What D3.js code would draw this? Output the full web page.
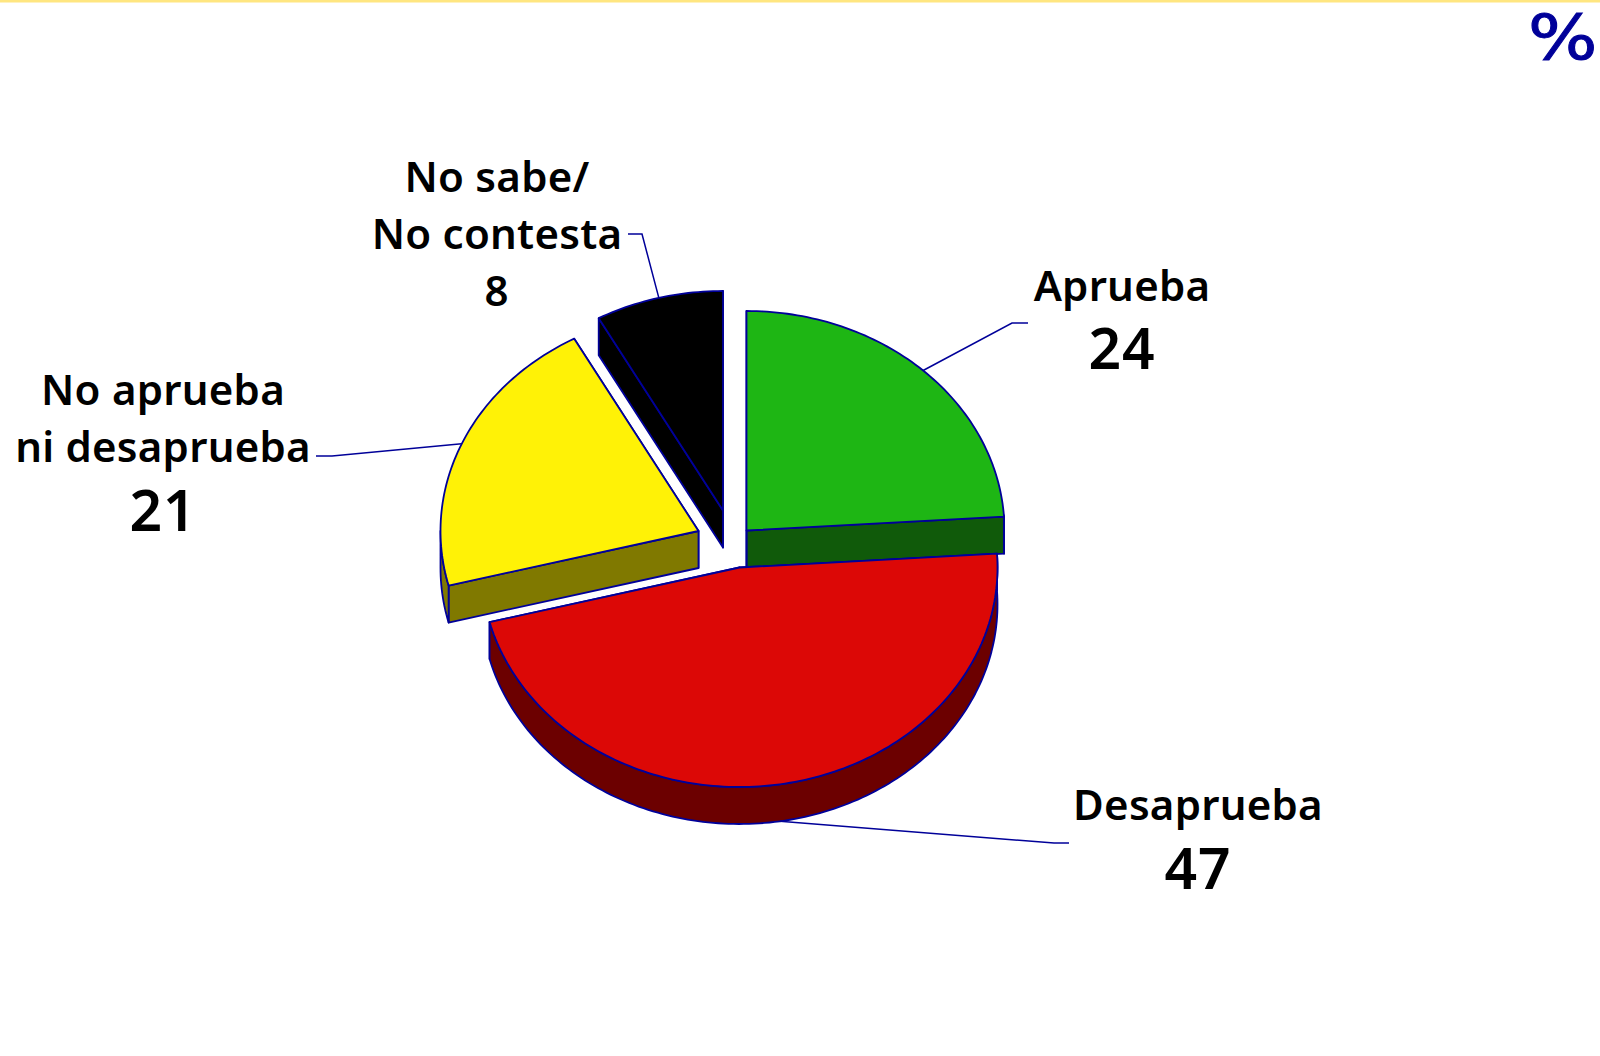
<!DOCTYPE html>
<html><head><meta charset="utf-8">
<script src="https://cdn.jsdelivr.net/npm/d3@7"></script>
<style>html,body{margin:0;padding:0;background:#fff;overflow:hidden}svg{display:block}</style>
</head><body><svg id="c" width="1600" height="1056"></svg>
<script>
const categories = ["Aprueba","Desaprueba","No aprueba ni desaprueba","No sabe/ No contesta"];
const values = [24,47,21,8];
const labelLines = [["Aprueba"],["Desaprueba"],["No aprueba","ni desaprueba"],["No sabe/","No contesta"]];
const topColors = ["#1eb614","#dc0806","#fff206","#000000"];
const sideColors = ["#105a0a","#6c0000","#807900","#000000"];
const centers = [[746.5,530.5],[739.5,567.5],[698.5,531],[723,510.5]];
const labelX = [1122,1198,163,497];
const labelY = [301,820,405,192];
const valueSize = [57,57,57,42];
const valueY = [369,889,531,306];
const elbows = [[[1028,323],[1012,323]],[[1069,843],[1054,843]],[[316,456],[332,456]],[[628,234],[642,234]]];
const drawOrder = [3,2,0,1];
const rx=258, ry=219.5, depth=37, stroke="#000099";

const svg=d3.select("#c");
svg.append("rect").attr("x",0).attr("y",0).attr("width",1600).attr("height",2.5).attr("fill","#ffe680");
svg.append("text").attr("transform","translate(1528,59) scale(1.16,1)")
  .attr("font-family","'DejaVu Sans',sans-serif").attr("font-size",63)
  .attr("fill",stroke).attr("stroke",stroke).attr("stroke-width",1).text("%");

const arcs=d3.pie().sort(null).value(d=>d).startAngle(0).endAngle(2*Math.PI)(values);
const pt=(i,a,dz=0)=>[centers[i][0]+rx*Math.sin(a),centers[i][1]-ry*Math.cos(a)+dz];
const line=d3.line();
const g=svg.append("g").attr("stroke",stroke).attr("stroke-width",1.8).attr("stroke-linejoin","round");
const samples=(a0,a1)=>{const n=Math.max(2,Math.ceil((a1-a0)/0.02));return d3.range(n+1).map(k=>a0+(a1-a0)*k/n);};

drawOrder.forEach(i=>{
  const {startAngle:s,endAngle:e}=arcs[i], c=centers[i];
  const low=[c[0],c[1]+depth];
  [e,s].forEach(a=>{
    g.append("path").attr("fill",sideColors[i])
     .attr("d",line([c,pt(i,a),pt(i,a,depth),low])+"Z");
  });
  const w0=Math.max(s,Math.PI/2-0.07), w1=Math.min(e,3*Math.PI/2);
  if(w1>w0){
    const as=samples(w0,w1);
    g.append("path").attr("fill",sideColors[i])
     .attr("d",line(as.map(a=>pt(i,a)).concat(as.slice().reverse().map(a=>pt(i,a,depth))))+"Z");
  }
  g.append("path").attr("fill",topColors[i])
   .attr("d",line([c].concat(samples(s,e).map(a=>pt(i,a))))+"Z");
});

arcs.forEach((d,i)=>{
  const m=(d.startAngle+d.endAngle)/2;
  const a=pt(i,m,(m>Math.PI/2&&m<3*Math.PI/2)?depth:0);
  svg.append("path").attr("fill","none").attr("stroke",stroke).attr("stroke-width",1.5)
    .attr("d",line([elbows[i][0],elbows[i][1],a]));
});

const font="'Noto Sans',sans-serif";
arcs.forEach((d,i)=>{
  labelLines[i].forEach((t,k)=>{
    svg.append("text").attr("x",labelX[i]).attr("y",labelY[i]+k*57).attr("text-anchor","middle")
      .attr("font-family",font).attr("font-weight",600).attr("font-size",42).attr("letter-spacing",0.25).attr("fill","#000").text(t);
  });
  svg.append("text").attr("x",labelX[i]).attr("y",valueY[i]).attr("text-anchor","middle")
    .attr("font-family",font).attr("font-weight",600).attr("font-size",valueSize[i]).attr("letter-spacing",1).attr("fill","#000").text(d.value);
});
</script></body></html>
